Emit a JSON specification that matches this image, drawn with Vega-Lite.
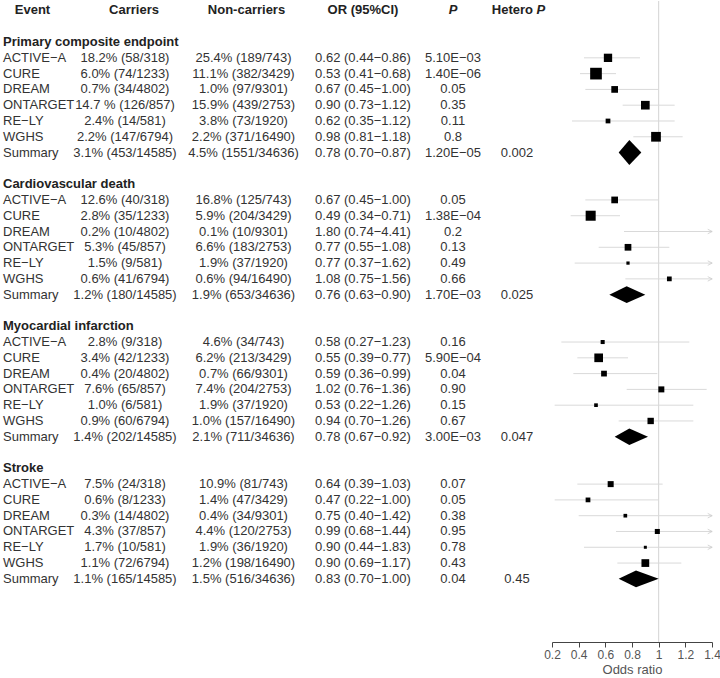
{
  "$schema": "https://vega.github.io/schema/vega-lite/v6.json",
  "padding": {"left": 0, "top": 0, "right": 0, "bottom": 0},
  "spacing": 0,
  "bounds": "flush",
  "config": {
    "view": {"stroke": null},
    "font": "Liberation Sans",
    "axisX": {
      "values": [0.2, 0.4, 0.6, 0.8, 1, 1.2, 1.4],
      "format": "~g",
      "grid": false,
      "domainColor": "#444",
      "tickColor": "#444",
      "tickSize": 5,
      "labelFont": "Liberation Sans",
      "labelFontSize": 12,
      "labelColor": "#555",
      "labelPadding": 2,
      "labelFlush": false,
      "labelOverlap": false,
      "titleFont": "Liberation Sans",
      "titleFontSize": 13,
      "titleFontWeight": "normal",
      "titleColor": "#555",
      "titlePadding": 3
    }
  },
  "datasets": {
    "t": [
      {"row": 0, "kind": "header", "event": "Event", "car": "Carriers", "non": "Non-carriers", "or": "OR (95%CI)", "p": "P", "het": "Hetero", "het2": "P"},
      {"row": 2, "kind": "group", "event": "Primary composite endpoint"},
      {"row": 3, "kind": "study", "event": "ACTIVE−A", "car": "18.2% (58/318)", "non": "25.4% (189/743)", "or": "0.62 (0.44−0.86)", "p": "5.10E−03", "est": 0.62, "lo": 0.44, "hi": 0.86, "weight": 46},
      {"row": 4, "kind": "study", "event": "CURE", "car": "6.0% (74/1233)", "non": "11.1% (382/3429)", "or": "0.53 (0.41−0.68)", "p": "1.40E−06", "est": 0.53, "lo": 0.41, "hi": 0.68, "weight": 91},
      {"row": 5, "kind": "study", "event": "DREAM", "car": "0.7% (34/4802)", "non": "1.0% (97/9301)", "or": "0.67 (0.45−1.00)", "p": "0.05", "est": 0.67, "lo": 0.45, "hi": 1.0, "weight": 30},
      {"row": 6, "kind": "study", "event": "ONTARGET", "car": "14.7 % (126/857)", "non": "15.9% (439/2753)", "or": "0.90 (0.73−1.12)", "p": "0.35", "est": 0.9, "lo": 0.73, "hi": 1.12, "weight": 50},
      {"row": 7, "kind": "study", "event": "RE−LY", "car": "2.4% (14/581)", "non": "3.8% (73/1920)", "or": "0.62 (0.35−1.12)", "p": "0.11", "est": 0.62, "lo": 0.35, "hi": 1.12, "weight": 15},
      {"row": 8, "kind": "study", "event": "WGHS", "car": "2.2% (147/6794)", "non": "2.2% (371/16490)", "or": "0.98 (0.81−1.18)", "p": "0.8", "est": 0.98, "lo": 0.81, "hi": 1.18, "weight": 63},
      {"row": 9, "kind": "summary", "event": "Summary", "car": "3.1% (453/14585)", "non": "4.5% (1551/34636)", "or": "0.78 (0.70−0.87)", "p": "1.20E−05", "het": "0.002", "est": 0.78, "lo": 0.70, "hi": 0.87},
      {"row": 11, "kind": "group", "event": "Cardiovascular death"},
      {"row": 12, "kind": "study", "event": "ACTIVE−A", "car": "12.6% (40/318)", "non": "16.8% (125/743)", "or": "0.67 (0.45−1.00)", "p": "0.05", "est": 0.67, "lo": 0.45, "hi": 1.0, "weight": 30},
      {"row": 13, "kind": "study", "event": "CURE", "car": "2.8% (35/1233)", "non": "5.9% (204/3429)", "or": "0.49 (0.34−0.71)", "p": "1.38E−04", "est": 0.49, "lo": 0.34, "hi": 0.71, "weight": 67},
      {"row": 14, "kind": "study", "event": "DREAM", "car": "0.2% (10/4802)", "non": "0.1% (10/9301)", "or": "1.80 (0.74−4.41)", "p": "0.2", "est": 1.8, "lo": 0.74, "hi": 4.41, "weight": 10},
      {"row": 15, "kind": "study", "event": "ONTARGET", "car": "5.3% (45/857)", "non": "6.6% (183/2753)", "or": "0.77 (0.55−1.08)", "p": "0.13", "est": 0.77, "lo": 0.55, "hi": 1.08, "weight": 30},
      {"row": 16, "kind": "study", "event": "RE−LY", "car": "1.5% (9/581)", "non": "1.9% (37/1920)", "or": "0.77 (0.37−1.62)", "p": "0.49", "est": 0.77, "lo": 0.37, "hi": 1.62, "weight": 7},
      {"row": 17, "kind": "study", "event": "WGHS", "car": "0.6% (41/6794)", "non": "0.6% (94/16490)", "or": "1.08 (0.75−1.56)", "p": "0.66", "est": 1.08, "lo": 0.75, "hi": 1.56, "weight": 15},
      {"row": 18, "kind": "summary", "event": "Summary", "car": "1.2% (180/14585)", "non": "1.9% (653/34636)", "or": "0.76 (0.63−0.90)", "p": "1.70E−03", "het": "0.025", "est": 0.76, "lo": 0.63, "hi": 0.90},
      {"row": 20, "kind": "group", "event": "Myocardial infarction"},
      {"row": 21, "kind": "study", "event": "ACTIVE−A", "car": "2.8% (9/318)", "non": "4.6% (34/743)", "or": "0.58 (0.27−1.23)", "p": "0.16", "est": 0.58, "lo": 0.27, "hi": 1.23, "weight": 11},
      {"row": 22, "kind": "study", "event": "CURE", "car": "3.4% (42/1233)", "non": "6.2% (213/3429)", "or": "0.55 (0.39−0.77)", "p": "5.90E−04", "est": 0.55, "lo": 0.39, "hi": 0.77, "weight": 50},
      {"row": 23, "kind": "study", "event": "DREAM", "car": "0.4% (20/4802)", "non": "0.7% (66/9301)", "or": "0.59 (0.36−0.99)", "p": "0.04", "est": 0.59, "lo": 0.36, "hi": 0.99, "weight": 22},
      {"row": 24, "kind": "study", "event": "ONTARGET", "car": "7.6% (65/857)", "non": "7.4% (204/2753)", "or": "1.02 (0.76−1.36)", "p": "0.90", "est": 1.02, "lo": 0.76, "hi": 1.36, "weight": 24},
      {"row": 25, "kind": "study", "event": "RE−LY", "car": "1.0% (6/581)", "non": "1.9% (37/1920)", "or": "0.53 (0.22−1.26)", "p": "0.15", "est": 0.53, "lo": 0.22, "hi": 1.26, "weight": 9},
      {"row": 26, "kind": "study", "event": "WGHS", "car": "0.9% (60/6794)", "non": "1.0% (157/16490)", "or": "0.94 (0.70−1.26)", "p": "0.67", "est": 0.94, "lo": 0.70, "hi": 1.26, "weight": 27},
      {"row": 27, "kind": "summary", "event": "Summary", "car": "1.4% (202/14585)", "non": "2.1% (711/34636)", "or": "0.78 (0.67−0.92)", "p": "3.00E−03", "het": "0.047", "est": 0.78, "lo": 0.67, "hi": 0.92},
      {"row": 29, "kind": "group", "event": "Stroke"},
      {"row": 30, "kind": "study", "event": "ACTIVE−A", "car": "7.5% (24/318)", "non": "10.9% (81/743)", "or": "0.64 (0.39−1.03)", "p": "0.07", "est": 0.64, "lo": 0.39, "hi": 1.03, "weight": 24},
      {"row": 31, "kind": "study", "event": "CURE", "car": "0.6% (8/1233)", "non": "1.4% (47/3429)", "or": "0.47 (0.22−1.00)", "p": "0.05", "est": 0.47, "lo": 0.22, "hi": 1.0, "weight": 15},
      {"row": 32, "kind": "study", "event": "DREAM", "car": "0.3% (14/4802)", "non": "0.4% (34/9301)", "or": "0.75 (0.40−1.42)", "p": "0.38", "est": 0.75, "lo": 0.40, "hi": 1.42, "weight": 9},
      {"row": 33, "kind": "study", "event": "ONTARGET", "car": "4.3% (37/857)", "non": "4.4% (120/2753)", "or": "0.99 (0.68−1.44)", "p": "0.95", "est": 0.99, "lo": 0.68, "hi": 1.44, "weight": 17},
      {"row": 34, "kind": "study", "event": "RE−LY", "car": "1.7% (10/581)", "non": "1.9% (36/1920)", "or": "0.90 (0.44−1.83)", "p": "0.78", "est": 0.90, "lo": 0.44, "hi": 1.83, "weight": 6},
      {"row": 35, "kind": "study", "event": "WGHS", "car": "1.1% (72/6794)", "non": "1.2% (198/16490)", "or": "0.90 (0.69−1.17)", "p": "0.43", "est": 0.90, "lo": 0.69, "hi": 1.17, "weight": 40},
      {"row": 36, "kind": "summary", "event": "Summary", "car": "1.1% (165/14585)", "non": "1.5% (516/34636)", "or": "0.83 (0.70−1.00)", "p": "0.04", "het": "0.45", "est": 0.83, "lo": 0.70, "hi": 1.0}
    ]
  },
  "hconcat": [
    {
      "width": 65, "height": 641,
      "data": {"name": "t"},
      "encoding": {"y": {"field": "row", "type": "quantitative", "scale": {"domain": [-0.6, 40], "reverse": true, "nice": false, "zero": false}, "axis": null}},
      "layer": [
        {"transform": [{"filter": "datum.kind == 'study' || datum.kind == 'summary'"}],
         "mark": {"type": "text", "align": "left", "baseline": "middle", "font": "Liberation Sans", "fontSize": 13, "color": "#333"},
         "encoding": {"x": {"value": 3}, "text": {"field": "event"}}},
        {"transform": [{"filter": "datum.kind == 'group'"}],
         "mark": {"type": "text", "align": "left", "baseline": "middle", "font": "Liberation Sans", "fontSize": 13, "fontWeight": "bold", "color": "#222"},
         "encoding": {"x": {"value": 3}, "text": {"field": "event"}}},
        {"transform": [{"filter": "datum.kind == 'header'"}],
         "mark": {"type": "text", "align": "center", "baseline": "middle", "font": "Liberation Sans", "fontSize": 13, "fontWeight": "bold", "color": "#222"},
         "encoding": {"text": {"field": "event"}}}
      ]
    },
    {
      "width": 120, "height": 641,
      "data": {"name": "t"},
      "encoding": {"y": {"field": "row", "type": "quantitative", "scale": {"domain": [-0.6, 40], "reverse": true, "nice": false, "zero": false}, "axis": null}},
      "layer": [
        {"transform": [{"filter": "datum.kind == 'study' || datum.kind == 'summary'"}],
         "mark": {"type": "text", "align": "center", "baseline": "middle", "font": "Liberation Sans", "fontSize": 13, "color": "#333"},
         "encoding": {"text": {"field": "car"}}},
        {"transform": [{"filter": "datum.kind == 'header'"}],
         "mark": {"type": "text", "align": "center", "baseline": "middle", "font": "Liberation Sans", "fontSize": 13, "fontWeight": "bold", "color": "#222", "dx": 9},
         "encoding": {"text": {"field": "car"}}}
      ]
    },
    {
      "width": 117, "height": 641,
      "data": {"name": "t"},
      "encoding": {"y": {"field": "row", "type": "quantitative", "scale": {"domain": [-0.6, 40], "reverse": true, "nice": false, "zero": false}, "axis": null}},
      "layer": [
        {"transform": [{"filter": "datum.kind == 'study' || datum.kind == 'summary'"}],
         "mark": {"type": "text", "align": "center", "baseline": "middle", "font": "Liberation Sans", "fontSize": 13, "color": "#333"},
         "encoding": {"text": {"field": "non"}}},
        {"transform": [{"filter": "datum.kind == 'header'"}],
         "mark": {"type": "text", "align": "center", "baseline": "middle", "font": "Liberation Sans", "fontSize": 13, "fontWeight": "bold", "color": "#222", "dx": 3},
         "encoding": {"text": {"field": "non"}}}
      ]
    },
    {
      "width": 122, "height": 641,
      "data": {"name": "t"},
      "encoding": {"y": {"field": "row", "type": "quantitative", "scale": {"domain": [-0.6, 40], "reverse": true, "nice": false, "zero": false}, "axis": null}},
      "layer": [
        {"transform": [{"filter": "datum.kind == 'study' || datum.kind == 'summary'"}],
         "mark": {"type": "text", "align": "center", "baseline": "middle", "font": "Liberation Sans", "fontSize": 13, "color": "#333"},
         "encoding": {"text": {"field": "or"}}},
        {"transform": [{"filter": "datum.kind == 'header'"}],
         "mark": {"type": "text", "align": "center", "baseline": "middle", "font": "Liberation Sans", "fontSize": 13, "fontWeight": "bold", "color": "#222"},
         "encoding": {"text": {"field": "or"}}}
      ]
    },
    {
      "width": 58, "height": 641,
      "data": {"name": "t"},
      "encoding": {"y": {"field": "row", "type": "quantitative", "scale": {"domain": [-0.6, 40], "reverse": true, "nice": false, "zero": false}, "axis": null}},
      "layer": [
        {"transform": [{"filter": "datum.kind == 'study' || datum.kind == 'summary'"}],
         "mark": {"type": "text", "align": "center", "baseline": "middle", "font": "Liberation Sans", "fontSize": 13, "color": "#333"},
         "encoding": {"text": {"field": "p"}}},
        {"transform": [{"filter": "datum.kind == 'header'"}],
         "mark": {"type": "text", "align": "center", "baseline": "middle", "font": "Liberation Sans", "fontSize": 13, "fontWeight": "bold", "fontStyle": "italic", "color": "#222"},
         "encoding": {"text": {"field": "p"}}}
      ]
    },
    {
      "width": 70, "height": 641,
      "data": {"name": "t"},
      "encoding": {"y": {"field": "row", "type": "quantitative", "scale": {"domain": [-0.6, 40], "reverse": true, "nice": false, "zero": false}, "axis": null}},
      "layer": [
        {"transform": [{"filter": "datum.kind == 'summary'"}],
         "mark": {"type": "text", "align": "center", "baseline": "middle", "font": "Liberation Sans", "fontSize": 13, "color": "#333"},
         "encoding": {"text": {"field": "het"}}},
        {"transform": [{"filter": "datum.kind == 'header'"}],
         "mark": {"type": "text", "align": "right", "baseline": "middle", "font": "Liberation Sans", "fontSize": 13, "fontWeight": "bold", "color": "#222", "dx": 16},
         "encoding": {"text": {"field": "het"}}},
        {"transform": [{"filter": "datum.kind == 'header'"}],
         "mark": {"type": "text", "align": "left", "baseline": "middle", "font": "Liberation Sans", "fontSize": 13, "fontWeight": "bold", "fontStyle": "italic", "color": "#222", "dx": 19.5},
         "encoding": {"text": {"field": "het2"}}}
      ]
    },
    {
      "width": 160, "height": 641,
      "data": {"name": "t"},
      "encoding": {"y": {"field": "row", "type": "quantitative", "scale": {"domain": [-0.6, 40], "reverse": true, "nice": false, "zero": false}, "axis": null}},
      "layer": [
        {"data": {"values": [{}]},
         "mark": {"type": "rule", "color": "#d4d4d4", "strokeWidth": 1},
         "encoding": {"y": null, "x": {"datum": 1, "type": "quantitative", "scale": {"domain": [0.2, 1.4], "nice": false, "zero": false}, "title": "Odds ratio"}}},
        {"transform": [{"filter": "datum.kind == 'study'"}],
         "mark": {"type": "rule", "color": "#d9d9d9", "strokeWidth": 1, "clip": true},
         "encoding": {"x": {"field": "lo", "type": "quantitative", "scale": {"domain": [0.2, 1.4], "nice": false, "zero": false}, "title": "Odds ratio"}, "x2": {"field": "hi"}}},
        {"transform": [{"filter": "datum.kind == 'study' && datum.hi > 1.4"}],
         "mark": {"type": "point", "shape": "M-1,-1L1,0L-1,1", "filled": false, "stroke": "#c8c8c8", "strokeWidth": 1, "size": 20, "xOffset": -2},
         "encoding": {"x": {"datum": 1.4, "type": "quantitative", "title": "Odds ratio"}}},
        {"transform": [{"filter": "datum.kind == 'study'"}],
         "mark": {"type": "square", "filled": true, "color": "#000", "opacity": 1, "strokeWidth": 0, "clip": true},
         "encoding": {"x": {"field": "est", "type": "quantitative", "title": "Odds ratio"},
                      "size": {"field": "weight", "type": "quantitative", "scale": {"domain": [0, 100], "range": [0, 150]}, "legend": null}}},
        {"transform": [
           {"filter": "datum.kind == 'summary'"},
           {"fold": ["lo", "est", "hi"], "as": ["k", "v"]},
           {"calculate": "datum.k == 'est' ? (datum.row == 9 ? 0.79 : 0.53) : 0", "as": "h"},
           {"calculate": "datum.row - datum.h", "as": "top"},
           {"calculate": "datum.row + datum.h", "as": "bot"}
         ],
         "mark": {"type": "area", "orient": "vertical", "color": "#000", "opacity": 1},
         "encoding": {"x": {"field": "v", "type": "quantitative", "title": "Odds ratio"},
                      "y": {"field": "top", "type": "quantitative", "stack": null},
                      "y2": {"field": "bot"},
                      "detail": {"field": "row"}}}
      ]
    }
  ]
}
